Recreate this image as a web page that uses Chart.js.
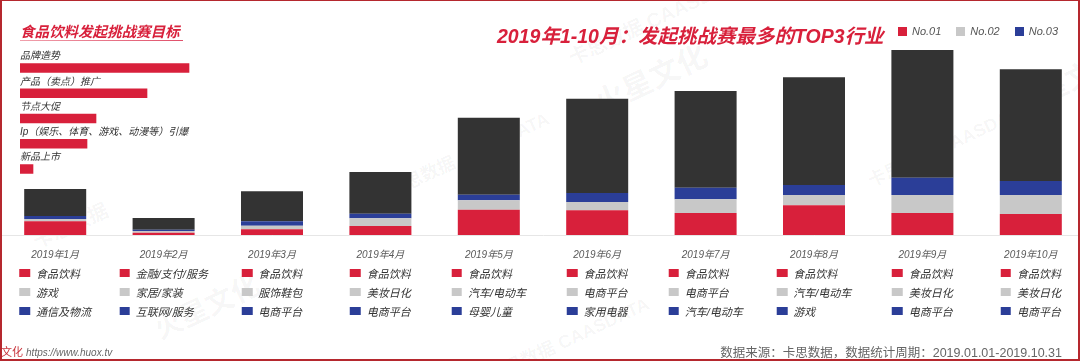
<!DOCTYPE html>
<html>
<head>
<meta charset="utf-8">
<script src="https://cdn.jsdelivr.net/npm/chart.js@4"></script>
<style>
  html,body{margin:0;padding:0;background:#fff;}
  body{width:1080px;height:361px;overflow:hidden;position:relative;font-family:'Liberation Sans','Noto Sans CJK SC',sans-serif;}
  .frame{position:absolute;left:0;top:0;width:1080px;height:361px;box-sizing:border-box;border:2px solid #b5282e;border-top-width:1px;z-index:5;pointer-events:none;}
  .wm{position:absolute;color:rgba(0,0,0,0.045);font-weight:bold;transform:rotate(-25deg);white-space:nowrap;z-index:0;}
  #mainWrap{position:absolute;left:0;top:0;width:1085px;height:361px;z-index:1;}
  #goalWrap{position:absolute;left:0;top:0;width:230px;height:190px;z-index:2;}
  .title{position:absolute;color:#d8203b;font-weight:bold;font-style:italic;white-space:nowrap;z-index:3;}
  #legend{position:absolute;left:898px;top:25px;display:flex;align-items:center;z-index:3;font-style:italic;font-size:11px;color:#555;}
  #legend .it{display:flex;align-items:center;margin-right:15px;}
  #legend .sq{width:9px;height:9px;margin-right:5px;}
  .col{position:absolute;top:264px;transform:translateX(-50%);z-index:3;}
  .col .row{display:flex;align-items:center;height:18.8px;font-size:11px;font-style:italic;color:#333;white-space:nowrap;}
  .col .sq{width:10.5px;height:8px;margin-right:6px;flex:none;}
  .foot{position:absolute;top:343px;font-size:11px;white-space:nowrap;z-index:3;}
</style>
</head>
<body>
<div class="wm" style="left:590px;top:55px;font-size:30px;">火星文化</div>
<div class="wm" style="left:560px;top:2px;font-size:20px;">卡思数据 CAASDATA</div>
<div class="wm" style="left:380px;top:140px;font-size:18px;">卡思数据 CAASDATA</div>
<div class="wm" style="left:860px;top:130px;font-size:18px;">卡思数据 CAASDATA</div>
<div class="wm" style="left:30px;top:210px;font-size:20px;">卡思数据</div>
<div class="wm" style="left:150px;top:285px;font-size:28px;">火星文化</div>
<div class="wm" style="left:1010px;top:60px;font-size:28px;">火星文化</div>
<div class="wm" style="left:480px;top:325px;font-size:18px;">卡思数据 CAASDATA</div>

<div id="mainWrap"><canvas id="mainChart" width="1085" height="361"></canvas></div>
<div id="goalWrap"><canvas id="goalChart" width="230" height="190"></canvas></div>

<div class="title" style="left:20px;top:20px;font-size:14.5px;">食品饮料发起挑战赛目标</div>
<div style="position:absolute;left:20px;top:39.5px;width:163px;height:1.5px;background:linear-gradient(90deg,#f0a0ac,#e0506a);z-index:3;"></div>
<div class="title" style="left:497px;top:20px;font-size:19.5px;">2019年1-10月：发起挑战赛最多的TOP3行业</div>
<div id="legend"></div>
<div id="table"></div>

<div class="foot" style="left:1px;"><span style="color:#c8323a;">文化</span> <span style="color:#666;font-style:italic;font-size:10px;">https://www.huox.tv</span></div>
<div class="foot" style="right:18px;color:#666;font-size:12.5px;top:342px;">数据来源：卡思数据，数据统计周期：2019.01.01-2019.10.31</div>
<div class="frame"></div>

<script>
const months = ['2019年1月','2019年2月','2019年3月','2019年4月','2019年5月','2019年6月','2019年7月','2019年8月','2019年9月','2019年10月'];
const no1Values = [13.7, 2.3, 5.7, 9, 25.3, 24.7, 22, 29.7, 22, 21];
const no2Values = [2.3, 1.7, 3.6, 7.7, 9.4, 8.3, 13.7, 10.3, 18, 19];
const no3Values = [3, 1.3, 4.4, 4.6, 5.6, 9, 11.6, 10, 17.3, 14];
const otherValues = [27, 11.7, 30, 41.7, 77, 94.3, 96.7, 107.7, 127.7, 111.7];

const no1Industry = ['食品饮料','金融/支付/服务','食品饮料','食品饮料','食品饮料','食品饮料','食品饮料','食品饮料','食品饮料','食品饮料'];
const no2Industry = ['游戏','家居/家装','服饰鞋包','美妆日化','汽车/电动车','电商平台','电商平台','汽车/电动车','美妆日化','美妆日化'];
const no3Industry = ['通信及物流','互联网/服务','电商平台','电商平台','母婴儿童','家用电器','汽车/电动车','游戏','电商平台','电商平台'];

const goalLabels = ['品牌造势','产品（卖点）推广','节点大促','Ip（娱乐、体育、游戏、动漫等）引爆','新品上市'];
const goalValues = [169, 127, 76, 67, 13];

const seriesNames = ['No.01','No.02','No.03'];
const colors = ['#d8203b','#c8c8c8','#2b3e98','#333333'];
const fontFamily = "'Liberation Sans','Noto Sans CJK SC',sans-serif";

const mainChart = new Chart(document.getElementById('mainChart'),{
  type:'bar',
  data:{
    labels:months,
    datasets:[
      {label:seriesNames[0],data:no1Values,backgroundColor:colors[0]},
      {label:seriesNames[1],data:no2Values,backgroundColor:colors[1]},
      {label:seriesNames[2],data:no3Values,backgroundColor:colors[2]},
      {label:'其他',data:otherValues,backgroundColor:colors[3]}
    ]
  },
  options:{
    responsive:false,
    animation:false,
    layout:{padding:{left:1,top:35,right:0,bottom:0}},
    datasets:{bar:{barPercentage:0.572,categoryPercentage:1}},
    plugins:{legend:{display:false},tooltip:{enabled:false}},
    scales:{
      x:{
        stacked:true,
        grid:{display:false},
        border:{display:true,color:'#e6e6e6',width:1},
        ticks:{autoSkip:false,maxRotation:0,padding:6,color:'#595959',font:{family:fontFamily,size:10,style:'italic'}},
        afterFit:(scale)=>{scale.height=126;}
      },
      y:{stacked:true,display:false,min:0,max:200}
    }
  }
});

new Chart(document.getElementById('goalChart'),{
  type:'bar',
  data:{labels:goalLabels,datasets:[{data:goalValues,backgroundColor:colors[0],barThickness:9}]},
  options:{
    indexAxis:'y',
    responsive:false,
    animation:false,
    layout:{padding:{left:20,top:55.4,right:10,bottom:8.4}},
    plugins:{legend:{display:false},tooltip:{enabled:false}},
    scales:{
      x:{display:false,min:0,max:200},
      y:{
        grid:{display:false,drawTicks:false},
        border:{display:false},
        ticks:{mirror:true,padding:0,labelOffset:-11.5,color:'#333',font:{family:fontFamily,size:10,style:'italic'}}
      }
    }
  }
});

const legend = document.getElementById('legend');
seriesNames.forEach((name,i)=>{
  const it = document.createElement('div');
  it.className='it';
  it.innerHTML='<div class="sq" style="background:'+colors[i]+'"></div><span>'+name+'</span>';
  legend.appendChild(it);
});

const table = document.getElementById('table');
const xScale = mainChart.scales.x;
months.forEach((m,i)=>{
  const col = document.createElement('div');
  col.className='col';
  col.style.left = xScale.getPixelForValue(i)+'px';
  [no1Industry[i],no2Industry[i],no3Industry[i]].forEach((name,k)=>{
    const row = document.createElement('div');
    row.className='row';
    row.innerHTML='<div class="sq" style="background:'+colors[k]+'"></div><span>'+name+'</span>';
    col.appendChild(row);
  });
  table.appendChild(col);
});
</script>
</body>
</html>
